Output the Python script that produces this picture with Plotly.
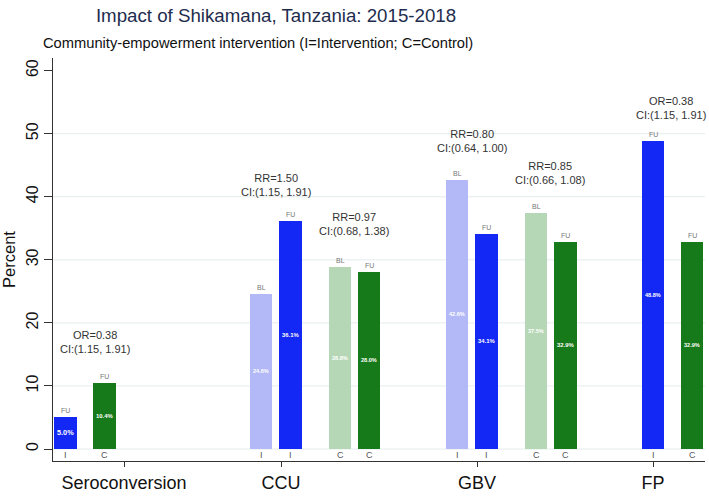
import plotly.graph_objects as go

# ---- data ----
outcomes = ["Seroconversion", "CCU", "GBV", "FP"]
bar_outcome = ["Seroconversion", "Seroconversion", "CCU", "CCU", "CCU", "CCU",
               "GBV", "GBV", "GBV", "GBV", "FP", "FP"]
bar_arm = ["I", "C", "I", "I", "C", "C", "I", "I", "C", "C", "I", "C"]
bar_round = ["FU", "FU", "BL", "FU", "BL", "FU", "BL", "FU", "BL", "FU", "FU", "FU"]
bar_percent = [5.0, 10.4, 24.6, 36.1, 28.8, 28.0, 42.6, 34.1, 37.5, 32.9, 48.8, 32.9]

effect_text = ["OR=0.38", "RR=1.50", "RR=0.97", "RR=0.80", "RR=0.85", "OR=0.38"]
effect_ci = ["CI:(1.15, 1.91)", "CI:(1.15, 1.91)", "CI:(0.68, 1.38)",
             "CI:(0.64, 1.00)", "CI:(0.66, 1.08)", "CI:(1.15, 1.91)"]

y_ticks = [0, 10, 20, 30, 40, 50, 60]
grid_lines = [0, 10, 20, 30, 40, 50]

# ---- layout (x axis in plot units, irregular Stata-style spacing) ----
bar_x = [65.5, 104.5, 261, 290.5, 340, 369, 457, 486.5, 536, 565.5, 653, 692]
outcome_tick_x = [124, 281, 477, 653]
effect_x = [95, 276, 354, 472, 550, 671]
effect_y = [16.9, 41.8, 35.7, 48.9, 43.8, 54.0]
BAR_W = 22.5

colors = {
    ("I", "BL"): "#b3b9f6",
    ("I", "FU"): "#1428f5",
    ("C", "BL"): "#b5d7b5",
    ("C", "FU"): "#177a1a",
}

FONT = "Liberation Sans, Arial, Helvetica"

fig = go.Figure()

for (arm, rnd), col in colors.items():
    idx = [i for i in range(len(bar_percent)) if bar_arm[i] == arm and bar_round[i] == rnd]
    fig.add_trace(go.Bar(
        x=[bar_x[i] for i in idx],
        y=[bar_percent[i] for i in idx],
        width=BAR_W,
        marker=dict(color=col, line=dict(width=0)),
        text=[f"{bar_percent[i]:.1f}%" for i in idx],
        textposition="inside",
        insidetextanchor="middle",
        textangle=0,
        textfont=dict(size=7.5, color="white", family=FONT, weight="bold"),
        hovertemplate=f"{arm} {rnd}: %{{y:.1f}}%<extra></extra>",
        showlegend=False,
    ))

annotations = []
# BL / FU labels above bars, I / C labels below
for i, v in enumerate(bar_percent):
    annotations.append(dict(x=bar_x[i], y=v, xref="x", yref="y", text=bar_round[i],
                            showarrow=False, yanchor="bottom", yshift=1,
                            font=dict(size=7, color="#777", family=FONT)))
    annotations.append(dict(x=bar_x[i], y=0, xref="x", yref="y", text=bar_arm[i],
                            showarrow=False, yanchor="top", yshift=1,
                            font=dict(size=9, color="#555", family=FONT)))

for i, t in enumerate(effect_text):
    annotations.append(dict(x=effect_x[i], y=effect_y[i], xref="x", yref="y",
                            text=f"{t}<br>{effect_ci[i]}", showarrow=False,
                            yanchor="middle", font=dict(size=11, color="#333", family=FONT)))

annotations.append(dict(x=(258 - 53) / 652, y=(464 - 43) / 406, xref="paper", yref="paper",
                        text="Community-empowerment intervention (I=Intervention; C=Control)",
                        showarrow=False, xanchor="center", yanchor="middle",
                        font=dict(size=14.7, color="#111", family=FONT)))

shapes = [dict(type="line", xref="x", yref="y", x0=53, x1=705, y0=g, y1=g,
               line=dict(color="#e4ecec", width=1), layer="below") for g in grid_lines]

fig.update_layout(
    width=709, height=497,
    margin=dict(l=53, r=4, t=58, b=33),
    paper_bgcolor="white", plot_bgcolor="white",
    title=dict(text="Impact of Shikamana, Tanzania: 2015-2018",
               x=276 / 709, xanchor="center", y=1 - 15 / 497, yanchor="middle",
               font=dict(size=18.7, color="#1e2c4e", family=FONT)),
    annotations=annotations,
    shapes=shapes,
    bargap=0,
    xaxis=dict(range=[53, 705], tickvals=outcome_tick_x, ticktext=outcomes,
               ticks="outside", ticklen=5, tickcolor="#333", showgrid=False,
               zeroline=False, showline=True, linecolor="#333", linewidth=1,
               tickfont=dict(size=18, color="#111", family=FONT)),
    yaxis=dict(range=[-1.9, 62], tickvals=y_ticks, tickangle=-90,
               ticks="outside", ticklen=8, tickcolor="#333", showgrid=False,
               zeroline=False, showline=True, linecolor="#333", linewidth=1,
               tickfont=dict(size=16, color="#111", family=FONT),
               title=dict(text="Percent", standoff=4,
                          font=dict(size=16.5, color="#111", family=FONT))),
)

fig.write_html("out.html", config={"displayModeBar": False},
               post_script="document.body.style.margin='0';")
